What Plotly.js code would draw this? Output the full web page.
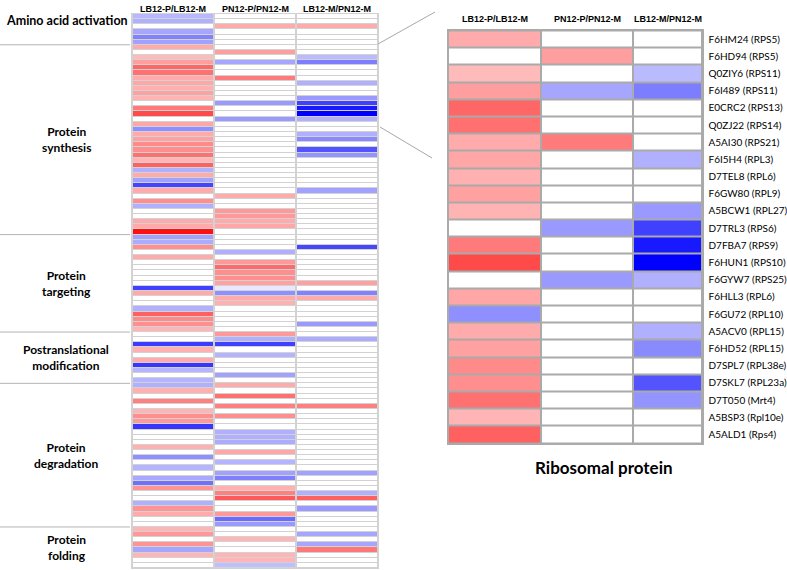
<!DOCTYPE html>
<html><head><meta charset="utf-8">
<script src="https://cdn.plot.ly/plotly-3.0.1.min.js"></script>
<style>html,body{margin:0;padding:0;background:#fff;}#chart{width:787px;height:570px;}</style>
</head><body><div id="chart"></div>
<script>
// ---------------- DATA ----------------
const columnLabels = ["LB12-P/LB12-M", "PN12-P/PN12-M", "LB12-M/PN12-M"];
const groupNames = ["Amino acid activation", "Protein<br>synthesis", "Protein<br>targeting",
  "Postranslational<br>modification", "Protein<br>degradation", "Protein<br>folding"];
const groupSizes = [6, 37, 19, 10, 28, 8];

// Amino acid activation (rows 1-6)
const aminoLB  = [-0.28, -0.31, 0, -0.35, -0.49, -0.37];
const aminoPN  = [0, 0, 0.33, 0, 0, 0];
const aminoLBM = [0, 0, 0.33, 0, 0, 0];

// Ribosomal proteins (first 24 rows of Protein synthesis, also shown enlarged)
const ribosomalLabels = ["F6HM24 (RPS5)", "F6HD94 (RPS5)", "Q0ZIY6 (RPS11)", "F6I489 (RPS11)",
  "E0CRC2 (RPS13)", "Q0ZJ22 (RPS14)", "A5AI30 (RPS21)", "F6I5H4 (RPL3)", "D7TEL8 (RPL6)",
  "F6GW80 (RPL9)", "A5BCW1 (RPL27)", "D7TRL3 (RPS6)", "D7FBA7 (RPS9)", "F6HUN1 (RPS10)",
  "F6GYW7 (RPS25)", "F6HLL3 (RPL6)", "F6GU72 (RPL10)", "A5ACV0 (RPL15)", "F6HD52 (RPL15)",
  "D7SPL7 (RPL38e)", "D7SKL7 (RPL23a)", "D7T050 (Mrt4)", "A5BSP3 (Rpl10e)", "A5ALD1 (Rps4)"];
const ribLB  = [0.33, 0, 0.27, 0.38, 0.6, 0.56, 0.33, 0.35, 0.31, 0.37, 0.3, 0, 0.52, 0.71, 0, 0.35, -0.44, 0.33, 0.37, 0.46, 0.44, 0.56, 0.29, 0.62];
const ribPN  = [0, 0.38, 0, -0.35, 0, 0, 0.52, 0, 0, 0, 0, -0.4, 0, 0, -0.4, 0, 0, 0, 0, 0, 0, 0, 0, 0];
const ribLBM = [0, 0, -0.27, -0.51, 0, 0, 0, -0.31, 0, 0, -0.4, -0.75, -0.9, -1, -0.31, 0, 0, -0.31, -0.46, 0, -0.67, -0.42, 0, 0];

// Remaining rows (rest of synthesis, targeting, modification, degradation, folding)
const otherLB = [
  -0.31, 0.33, -0.37, -0.73, 0.33, 0, 0.44, -0.31, 0, 0, 0.33, 0.33, 0.94,
  -0.37, -0.33, 0.44, 0, 0.33, 0, 0, 0, 0, 0, -0.75, 0.33, 0, 0, -0.31, 0.62, 0.46, 0.44, 0.29,
  0, 0, -0.77, 0.31, 0, 0.33, -0.79, -0.29, 0, -0.29,
  -0.31, 0.31, 0, 0.5, 0, 0.29, 0.44, 0.4, -0.79, 0, 0, 0, 0.31, 0, -0.44, 0, -0.29, 0, -0.34, -0.56, 0.42, 0, 0, -0.31, 0.42, 0.33, 0, 0,
  0.29, 0.4, 0, 0.42, -0.35, 0.29, 0, 0];
const otherPN = [
  0, 0, 0, 0, 0, 0.33, 0, 0, 0.4, 0.4, 0.33, 0.35, 0,
  0, 0, 0, -0.31, 0, 0.4, 0.58, 0.44, 0.44, 0.37, -0.09, -0.44, 0.33, 0.31, 0, 0, 0, 0, 0,
  0.4, -0.31, -0.75, 0, -0.29, 0, 0, 0, -0.37, 0,
  0.33, 0, 0.56, 0, 0.5, 0, 0.44, 0, 0, -0.31, -0.31, -0.33, 0, 0.35, 0, -0.29, 0, -0.37, -0.5, 0, 0.31, 0.5, 0.65, 0, 0, 0.4, -0.58, -0.4,
  0, 0, 0.29, 0, 0, 0.29, 0.29, -0.25];
const otherLBM = [
  0, 0, 0, 0, -0.37, 0, 0, 0, 0, 0, 0, 0, 0,
  0, 0, -0.72, 0, 0, 0, 0, 0, 0, 0.37, 0, -0.49, 0.33, 0, 0, 0, 0, -0.4, 0,
  0, -0.33, 0, 0, 0, 0, 0, 0, 0, 0,
  0, 0, 0, 0, 0.5, 0, 0, 0, 0, 0, 0, 0, 0, 0, 0, 0, 0, -0.37, 0, 0, 0, -0.31, 0.62, 0, -0.4, 0, 0, 0,
  0, -0.35, 0, -0.35, 0.53, 0, 0, 0];

// ---------------- LAYOUT HELPERS ----------------
const W = 787, H = 570;
const px = x => x / W;
const py = y => 1 - y / H;
const rightColWidths = [93, 92, 69];
const labelRowShift = [-1.8, 0, 0, 0, 0, 0];
const labelX = [67, 66, 66, 66, 66, 66];
const labelSize = [12.5, 12, 12, 12, 12, 12];

const leftLB = aminoLB.concat(ribLB, otherLB);
const leftPN = aminoPN.concat(ribPN, otherPN);
const leftLBM = aminoLBM.concat(ribLBM, otherLBM);
const nLeft = leftLB.length;
const zLeft = leftLB.map((v, i) => [v, leftPN[i], leftLBM[i]]);
const zRight = ribLB.map((v, i) => [v, ribPN[i], ribLBM[i]]);
const rightEdges = [0];
rightColWidths.forEach(w => rightEdges.push(rightEdges[rightEdges.length - 1] + w));

const cs = [[0, '#0000ff'], [0.5, '#ffffff'], [1, '#ff0000']];
const FONT = "Lato, 'Open Sans', sans-serif";
const HFONT = "'Liberation Sans', Arial, sans-serif";

const traces = [
  {type: 'heatmap', z: zLeft, x: [0, 1, 2], y: zLeft.map((_, i) => i), xaxis: 'x', yaxis: 'y',
   colorscale: cs, zmin: -1, zmax: 1, showscale: false, xgap: 2, ygap: 1, hoverinfo: 'skip'},
  {type: 'heatmap', z: zRight, x: rightEdges, y: zRight.map((_, i) => i), xaxis: 'x2', yaxis: 'y2',
   colorscale: cs, zmin: -1, zmax: 1, showscale: false, xgap: 2, ygap: 2, hoverinfo: 'skip'}
];

const annotations = [];
const shapes = [];
columnLabels.forEach((t, i) => {
  annotations.push({xref: 'x', yref: 'paper', x: i, y: py(9), text: t, showarrow: false,
    font: {family: HFONT, size: 9, color: '#000', weight: 700}, xanchor: 'center', yanchor: 'middle'});
  annotations.push({xref: 'x2', yref: 'paper', x: (rightEdges[i] + rightEdges[i + 1]) / 2, y: py(19), text: t,
    showarrow: false, font: {family: HFONT, size: 9, color: '#000', weight: 700}, xanchor: 'center', yanchor: 'middle'});
});
let start = 0;
groupNames.forEach((g, k) => {
  const n = groupSizes[k];
  annotations.push({xref: 'paper', yref: 'y', x: px(labelX[k]), y: start + (n - 1) / 2 + labelRowShift[k], text: g,
    showarrow: false, xanchor: 'center', yanchor: 'middle',
    font: {family: FONT, size: labelSize[k], color: '#000', weight: 700}});
  start += n;
  if (k < groupNames.length - 1) {
    shapes.push({type: 'line', xref: 'paper', yref: 'y', x0: 0, x1: px(130), y0: start - 0.5, y1: start - 0.5,
      line: {color: '#b4b4b4', width: 1}});
  }
});
annotations.push({xref: 'paper', yref: 'paper', x: px(604), y: py(467), text: 'Ribosomal protein', showarrow: false,
  xanchor: 'center', yanchor: 'middle', font: {family: FONT, size: 17, color: '#000', weight: 700}});
// background of the left grid (light gap colour)
shapes.push({type: 'rect', xref: 'x', yref: 'y', x0: -0.5, x1: 2.5, y0: -0.5, y1: nLeft - 0.5, layer: 'below',
  fillcolor: '#d2d2d2', line: {width: 0}});
// connector lines
shapes.push({type: 'line', xref: 'paper', yref: 'paper', x0: px(378), y0: py(44), x1: px(435), y1: py(12), line: {color: '#a8a8a8', width: 1}});
shapes.push({type: 'line', xref: 'paper', yref: 'paper', x0: px(380), y0: py(127), x1: px(432), y1: py(158), line: {color: '#a8a8a8', width: 1}});

const axBase = {showgrid: false, zeroline: false, ticks: '', fixedrange: true};
const layout = {
  width: W, height: H, margin: {l: 0, r: 0, t: 0, b: 0}, paper_bgcolor: '#fff', plot_bgcolor: '#aaaaaa',
  showlegend: false,
  xaxis: Object.assign({}, axBase, {domain: [px(132), px(378)], range: [-0.5, 2.5], showticklabels: false,
    showline: true, mirror: true, linecolor: '#d2d2d2', linewidth: 1, anchor: 'y'}),
  yaxis: Object.assign({}, axBase, {domain: [py(568), py(14)], range: [nLeft - 0.5, -0.5], showticklabels: false,
    showline: true, mirror: true, linecolor: '#d2d2d2', linewidth: 1, anchor: 'x'}),
  xaxis2: Object.assign({}, axBase, {domain: [px(448), px(702)], range: [0, rightEdges[3]], showticklabels: false,
    showline: true, mirror: true, linecolor: '#aaaaaa', linewidth: 1.5, anchor: 'y2'}),
  yaxis2: Object.assign({}, axBase, {domain: [py(443), py(30.5)], range: [zRight.length - 0.5, -0.5],
    side: 'right', anchor: 'x2', tickmode: 'array', tickvals: zRight.map((_, i) => i), ticktext: ribosomalLabels,
    tickfont: {family: FONT, size: 10, color: '#000'}, ticklabelstandoff: 3,
    showline: true, mirror: true, linecolor: '#aaaaaa', linewidth: 1.5}),
  annotations: annotations, shapes: shapes
};
Plotly.newPlot('chart', traces, layout, {staticPlot: true, displayModeBar: false});
</script></body></html>
